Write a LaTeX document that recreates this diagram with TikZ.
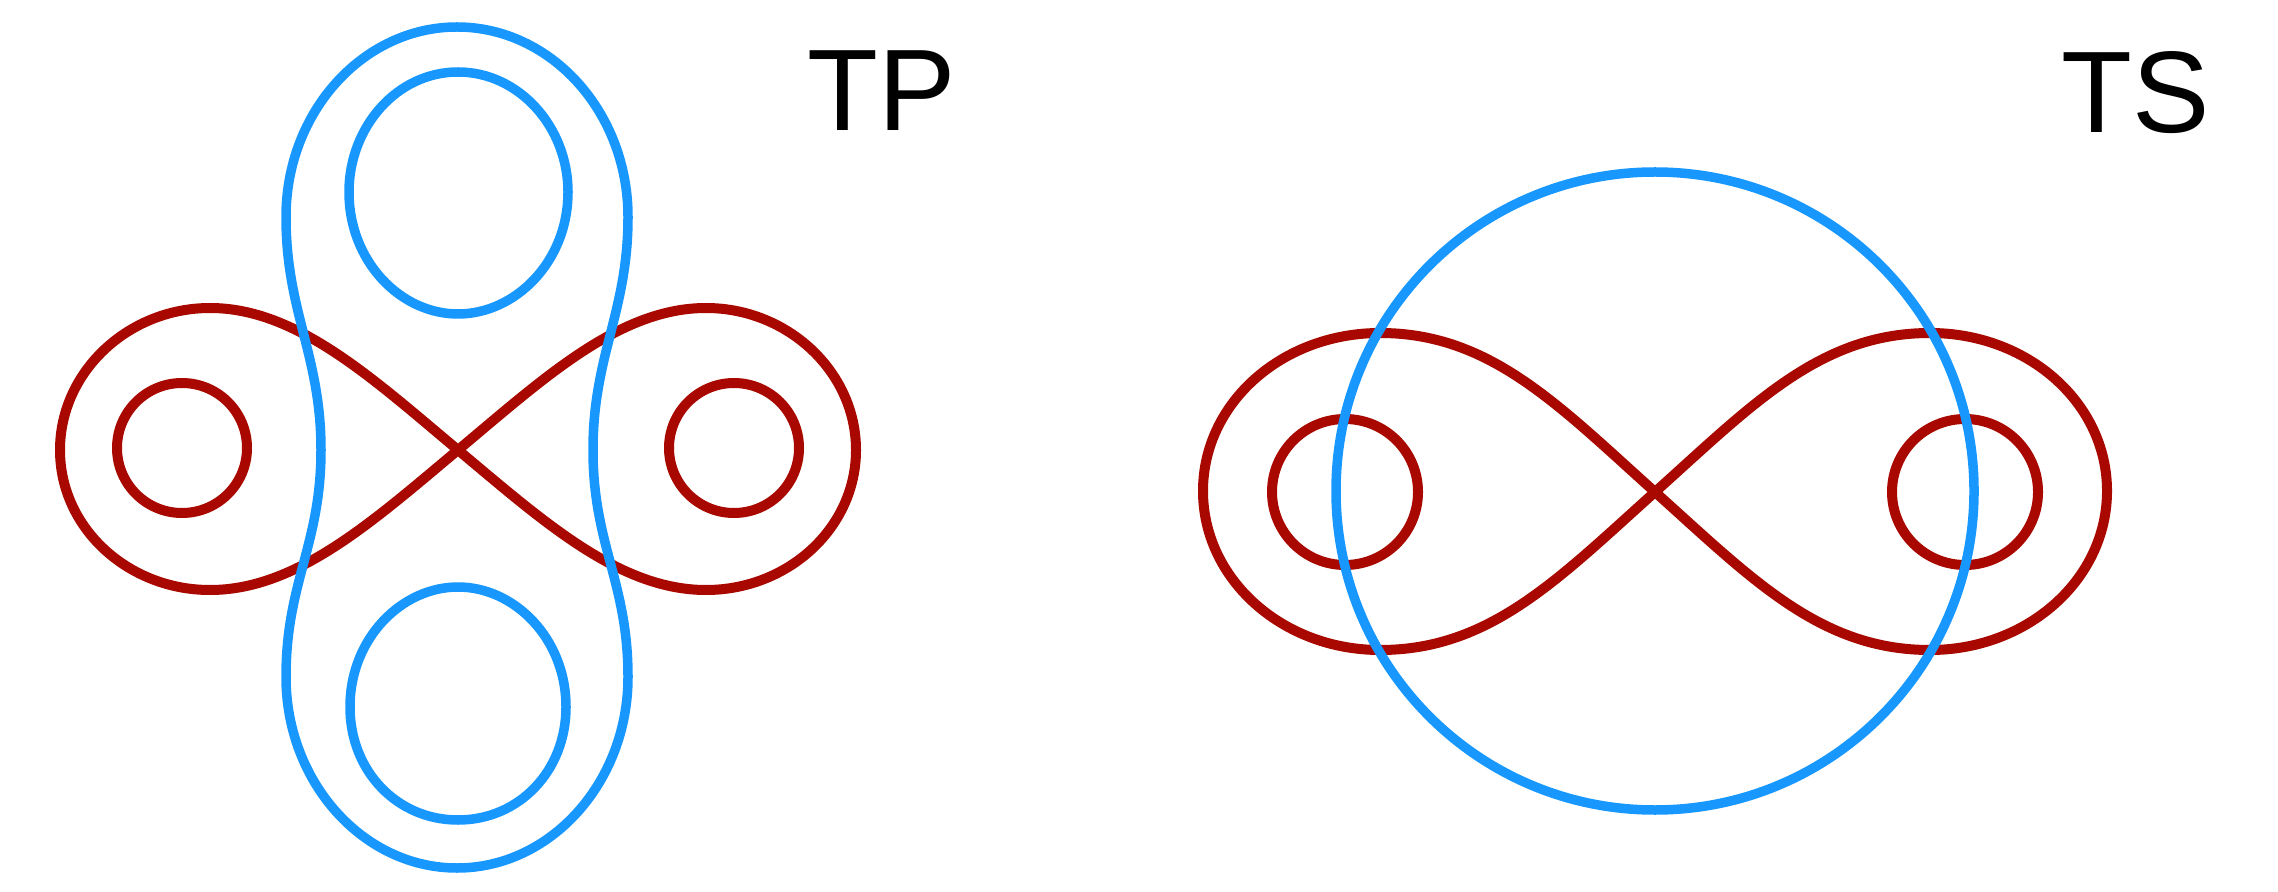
\documentclass[tikz,border=0pt]{standalone}
\usepackage{fontspec}
\setmainfont{Liberation Sans}
\usetikzlibrary{positioning}

\definecolor{loopred}{RGB}{168,8,0}
\definecolor{loopblue}{RGB}{24,152,255}

\begin{document}
\begin{tikzpicture}[
  x=0.5pt, y=-0.5pt,
  redline/.style={draw=loopred, line width=5pt},
  blueline/.style={draw=loopblue, line width=4.75pt},
  tag/.style={font=\fontsize{58}{70}\selectfont, anchor=base, inner sep=0pt}
]
\useasboundingbox (0,0) rectangle (2278,892);

% left picture: TP
\draw[redline] (458,450)
  .. controls (543,379) and (619,308) .. (706,308)
  .. controls (788,308) and (856,372) .. (856,450)
  .. controls (856,528) and (788,590) .. (706,590)
  .. controls (619,590) and (543,521) .. (458,450)
  .. controls (373,379) and (297,308) .. (210,308)
  .. controls (128,308) and (60,372) .. (60,450)
  .. controls (60,528) and (128,590) .. (210,590)
  .. controls (297,590) and (373,521) .. (458,450) -- cycle;
\draw[redline] (182,448) circle[radius=65];
\draw[redline] (734,448) circle[radius=65];

\draw[blueline] (457,27)
  .. controls (551,27) and (628,112) .. (628,217)
  .. controls (628,312) and (593,355) .. (593,450)
  .. controls (593,545) and (628,582) .. (628,677)
  .. controls (628,782) and (551,868) .. (457,868)
  .. controls (363,868) and (286,782) .. (286,677)
  .. controls (286,582) and (321,545) .. (321,450)
  .. controls (321,355) and (286,312) .. (286,217)
  .. controls (286,112) and (363,27) .. (457,27) -- cycle;
\draw[blueline] (458,72)
  .. controls (519,72) and (568,127) .. (568,192)
  .. controls (568,262) and (515,314) .. (458,314)
  .. controls (401,314) and (349,262) .. (349,192)
  .. controls (349,127) and (397,72) .. (458,72) -- cycle;
\draw[blueline] (458,820)
  .. controls (519,820) and (566,771) .. (566,707)
  .. controls (566,638) and (514,587) .. (458,587)
  .. controls (402,587) and (350,638) .. (350,707)
  .. controls (350,771) and (397,820) .. (458,820) -- cycle;

\node[tag] (tp) at (882,131) {TP};

% right picture: TS
\draw[redline] (1655,492)
  .. controls (1752,405) and (1820,333) .. (1930,333)
  .. controls (2028,333) and (2107,403) .. (2107,491)
  .. controls (2107,579) and (2028,650) .. (1930,650)
  .. controls (1820,650) and (1752,579) .. (1655,492)
  .. controls (1558,405) and (1490,333) .. (1380,333)
  .. controls (1282,333) and (1203,403) .. (1203,491)
  .. controls (1203,579) and (1282,650) .. (1380,650)
  .. controls (1490,650) and (1558,579) .. (1655,492) -- cycle;
\draw[redline] (1345,492) circle[radius=73];
\draw[redline] (1965,492) circle[radius=73];

\draw[blueline] (1655,491) circle[radius=319];

\node[tag] (ts) at (2136,133) {TS};
\end{tikzpicture}
\end{document}
